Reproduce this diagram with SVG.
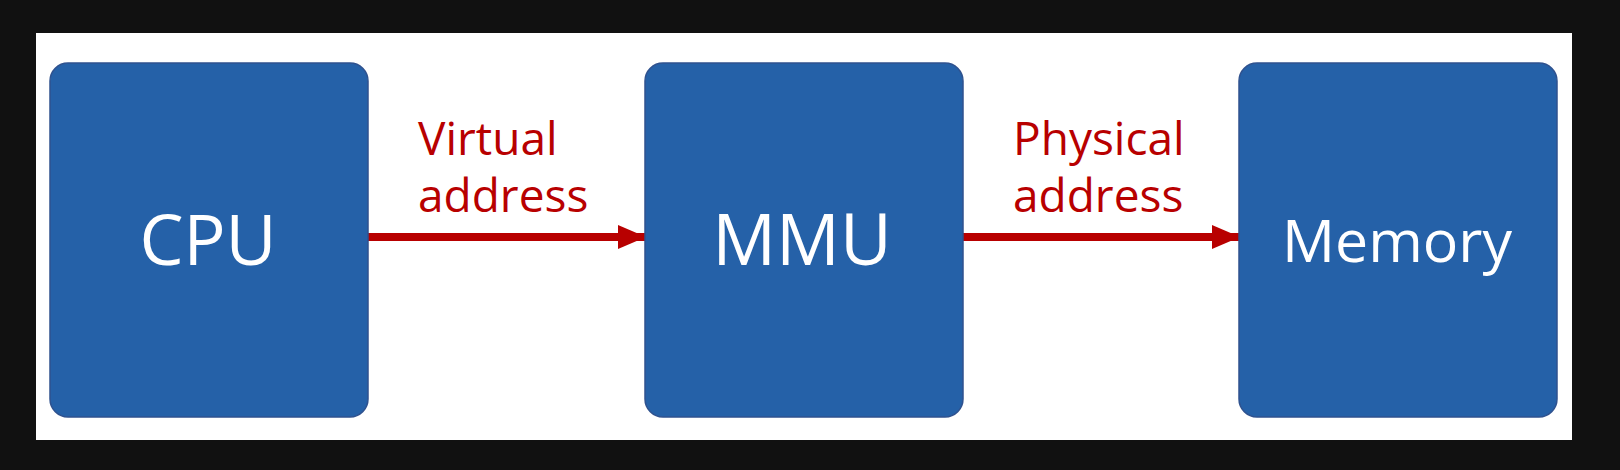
<svg xmlns="http://www.w3.org/2000/svg" width="1620" height="470" viewBox="0 0 1620 470">
<style>
.box{fill:#2561a8;stroke:#2f528f;stroke-width:1.5}
.nl{font-family:"Open Sans","Noto Sans",sans-serif;fill:#ffffff;text-anchor:middle}
.el{font-family:"Open Sans","Noto Sans",sans-serif;fill:#b80000;font-size:46px}
.conn{stroke:#b80000;stroke-width:8;fill:none}
</style>
<defs>
<marker id="ah" markerUnits="userSpaceOnUse" markerWidth="28" markerHeight="24" refX="27" refY="12" orient="auto">
<path d="M0,0 L28,12 L0,24 Z" fill="#b80000"/>
</marker>
</defs>
<rect x="0" y="0" width="1620" height="470" fill="#111111"/>
<rect x="36" y="33" width="1536" height="407" fill="#ffffff"/>
<g id="connectors">
<line class="conn" x1="368" y1="237" x2="645" y2="237" marker-end="url(#ah)"/>
<line class="conn" x1="963" y1="237" x2="1239" y2="237" marker-end="url(#ah)"/>
<text class="el" x="418" y="155">Virtual</text>
<text class="el" x="418" y="212">address</text>
<text class="el" x="1013" y="155">Physical</text>
<text class="el" x="1013" y="212">address</text>
</g>
<g id="cpu">
<rect class="box" x="50" y="63" width="318" height="354" rx="18"/>
<text class="nl" x="208" y="265" font-size="70">CPU</text>
</g>
<g id="mmu">
<rect class="box" x="645" y="63" width="318" height="354" rx="18"/>
<text class="nl" x="802" y="265" font-size="71">MMU</text>
</g>
<g id="memory">
<rect class="box" x="1239" y="63" width="318" height="354" rx="18"/>
<text class="nl" x="1397" y="262" font-size="59">Memory</text>
</g>
</svg>
